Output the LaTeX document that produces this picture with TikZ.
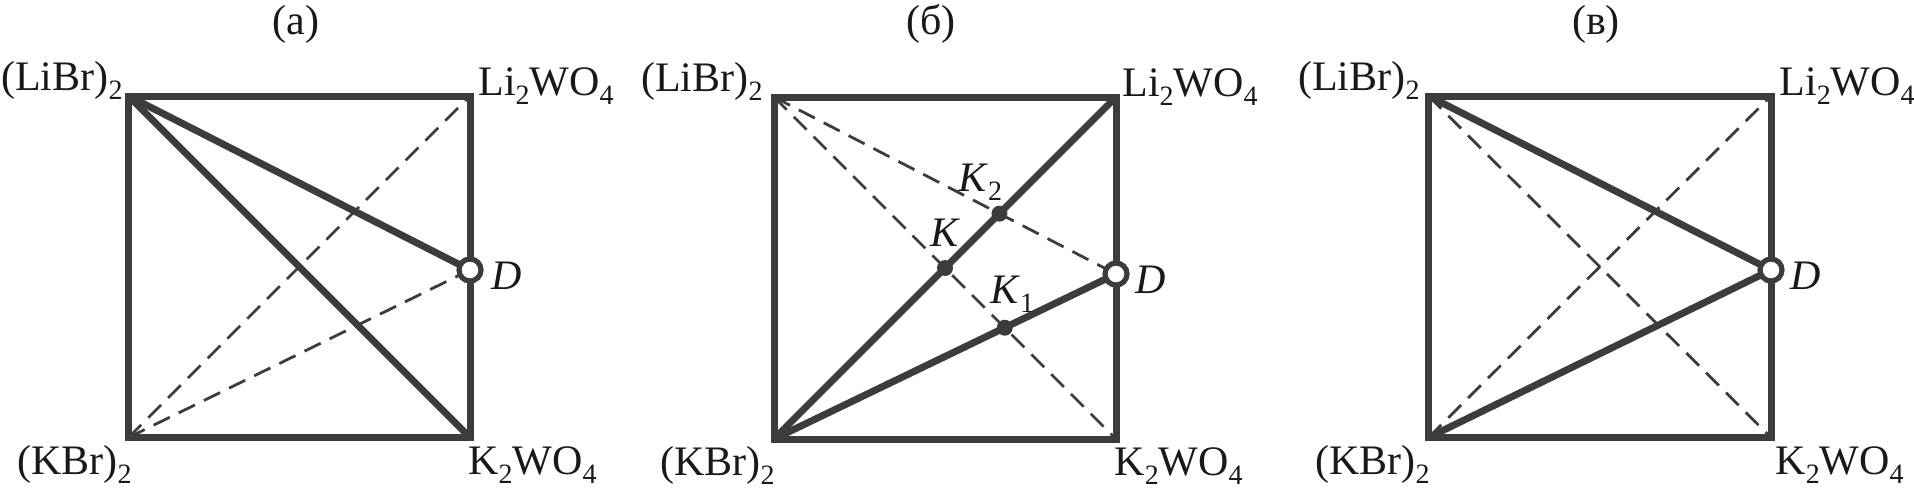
\documentclass[tikz,border=0pt]{standalone}
\usepackage{fontspec}
\setmainfont{Liberation Serif}
\usetikzlibrary{calc}
\definecolor{ln}{RGB}{60,60,60}
\definecolor{tx}{RGB}{25,25,25}
\newcommand\idx[1]{\raisebox{-0.22em}{\fontsize{14}{14}\selectfont #1}}
\begin{document}
\begin{tikzpicture}[x=0.5pt,y=-0.5pt,
 solidln/.style={draw=ln,line width=3.5pt,line join=miter},
 dashln/.style={draw=ln,line width=1.4pt,dash pattern=on 9pt off 5pt},
 lbl/.style={text=tx,inner sep=0pt,font=\fontsize{21}{23}\selectfont},
 dnode/.style={circle,draw=ln,fill=white,line width=2.6pt,minimum size=11pt,inner sep=0pt},
 knode/.style={circle,fill=ln,minimum size=8pt,inner sep=0pt}]
\path[use as bounding box] (0,0) rectangle (1914,503);

% ---------- panel (a)
\coordinate (a1) at (128.5,96);
\coordinate (a2) at (470,96);
\coordinate (a3) at (470,437.5);
\coordinate (a4) at (128.5,437.5);
\coordinate (aDc) at (470,270);
\draw[dashln] (a4) -- (a2);
\draw[dashln] (a4) -- (aDc);
\draw[solidln] (a1) -- (a2) -- (a3) -- (a4) -- cycle;
\draw[solidln] (a1) -- (a3);
\draw[solidln] (a1) -- (aDc);
\node[dnode] (aD) at (aDc) {};
\node[lbl] (aT) at (296,24) {(а)};
\node[lbl,anchor=base east] (aLB) at (123,90) {(LiBr)\idx{2}};
\node[lbl,anchor=base west] (aLW) at (478,95) {Li\idx{2}WO\idx{4}};
\node[lbl,anchor=base east] (aKB) at (132,474) {(KBr)\idx{2}};
\node[lbl,anchor=base west] (aKW) at (468,474) {K\idx{2}WO\idx{4}};
\node[lbl,anchor=base west] (aDl) at (491,289) {\textit{D}};

% ---------- panel (b)
\coordinate (b1) at (774,97);
\coordinate (b2) at (1116,97);
\coordinate (b3) at (1116,439);
\coordinate (b4) at (774,439);
\coordinate (bDc) at (1116,274);
\coordinate (bK) at (intersection of b4--b2 and b1--b3);
\coordinate (bK1) at (intersection of b4--bDc and b1--b3);
\coordinate (bK2) at (intersection of b4--b2 and b1--bDc);
\draw[dashln] (b1) -- (b3);
\draw[dashln] (b1) -- (bDc);
\draw[solidln] (b1) -- (b2) -- (b3) -- (b4) -- cycle;
\draw[solidln] (b4) -- (b2);
\draw[solidln] (b4) -- (bDc);
\node[dnode] (bD) at (bDc) {};
\node[knode] (bKd) at (bK) {};
\node[knode] (bK1d) at (bK1) {};
\node[knode] (bK2d) at (bK2) {};
\node[lbl] (bT) at (931,24) {(б)};
\node[lbl,anchor=base east] (bLB) at (763,91) {(LiBr)\idx{2}};
\node[lbl,anchor=base west] (bLW) at (1122,96) {Li\idx{2}WO\idx{4}};
\node[lbl,anchor=base east] (bKB) at (775,475) {(KBr)\idx{2}};
\node[lbl,anchor=base west] (bKW) at (1114,475) {K\idx{2}WO\idx{4}};
\node[lbl,anchor=base west] (bDl) at (1135,293) {\textit{D}};
\node[lbl,anchor=base west] (bKl) at (930,246) {\textit{K}};
\node[lbl,anchor=base west] (bK1l) at (990,303) {\textit{K}\idx{1}};
\node[lbl,anchor=base west] (bK2l) at (958,191) {\textit{K}\idx{2}};

% ---------- panel (c)
\coordinate (c1) at (1428.5,96);
\coordinate (c2) at (1771,96);
\coordinate (c3) at (1771,437.5);
\coordinate (c4) at (1428.5,437.5);
\coordinate (cDc) at (1771,270);
\draw[dashln] (c1) -- (c3);
\draw[dashln] (c4) -- (c2);
\draw[solidln] (c1) -- (c2) -- (c3) -- (c4) -- cycle;
\draw[solidln] (c1) -- (cDc);
\draw[solidln] (c4) -- (cDc);
\node[dnode] (cD) at (cDc) {};
\node[lbl] (cT) at (1596,24) {(в)};
\node[lbl,anchor=base east] (cLB) at (1420,90) {(LiBr)\idx{2}};
\node[lbl,anchor=base west] (cLW) at (1779,95) {Li\idx{2}WO\idx{4}};
\node[lbl,anchor=base east] (cKB) at (1430,474) {(KBr)\idx{2}};
\node[lbl,anchor=base west] (cKW) at (1775,474) {K\idx{2}WO\idx{4}};
\node[lbl,anchor=base west] (cDl) at (1790,289) {\textit{D}};
\end{tikzpicture}
\end{document}
